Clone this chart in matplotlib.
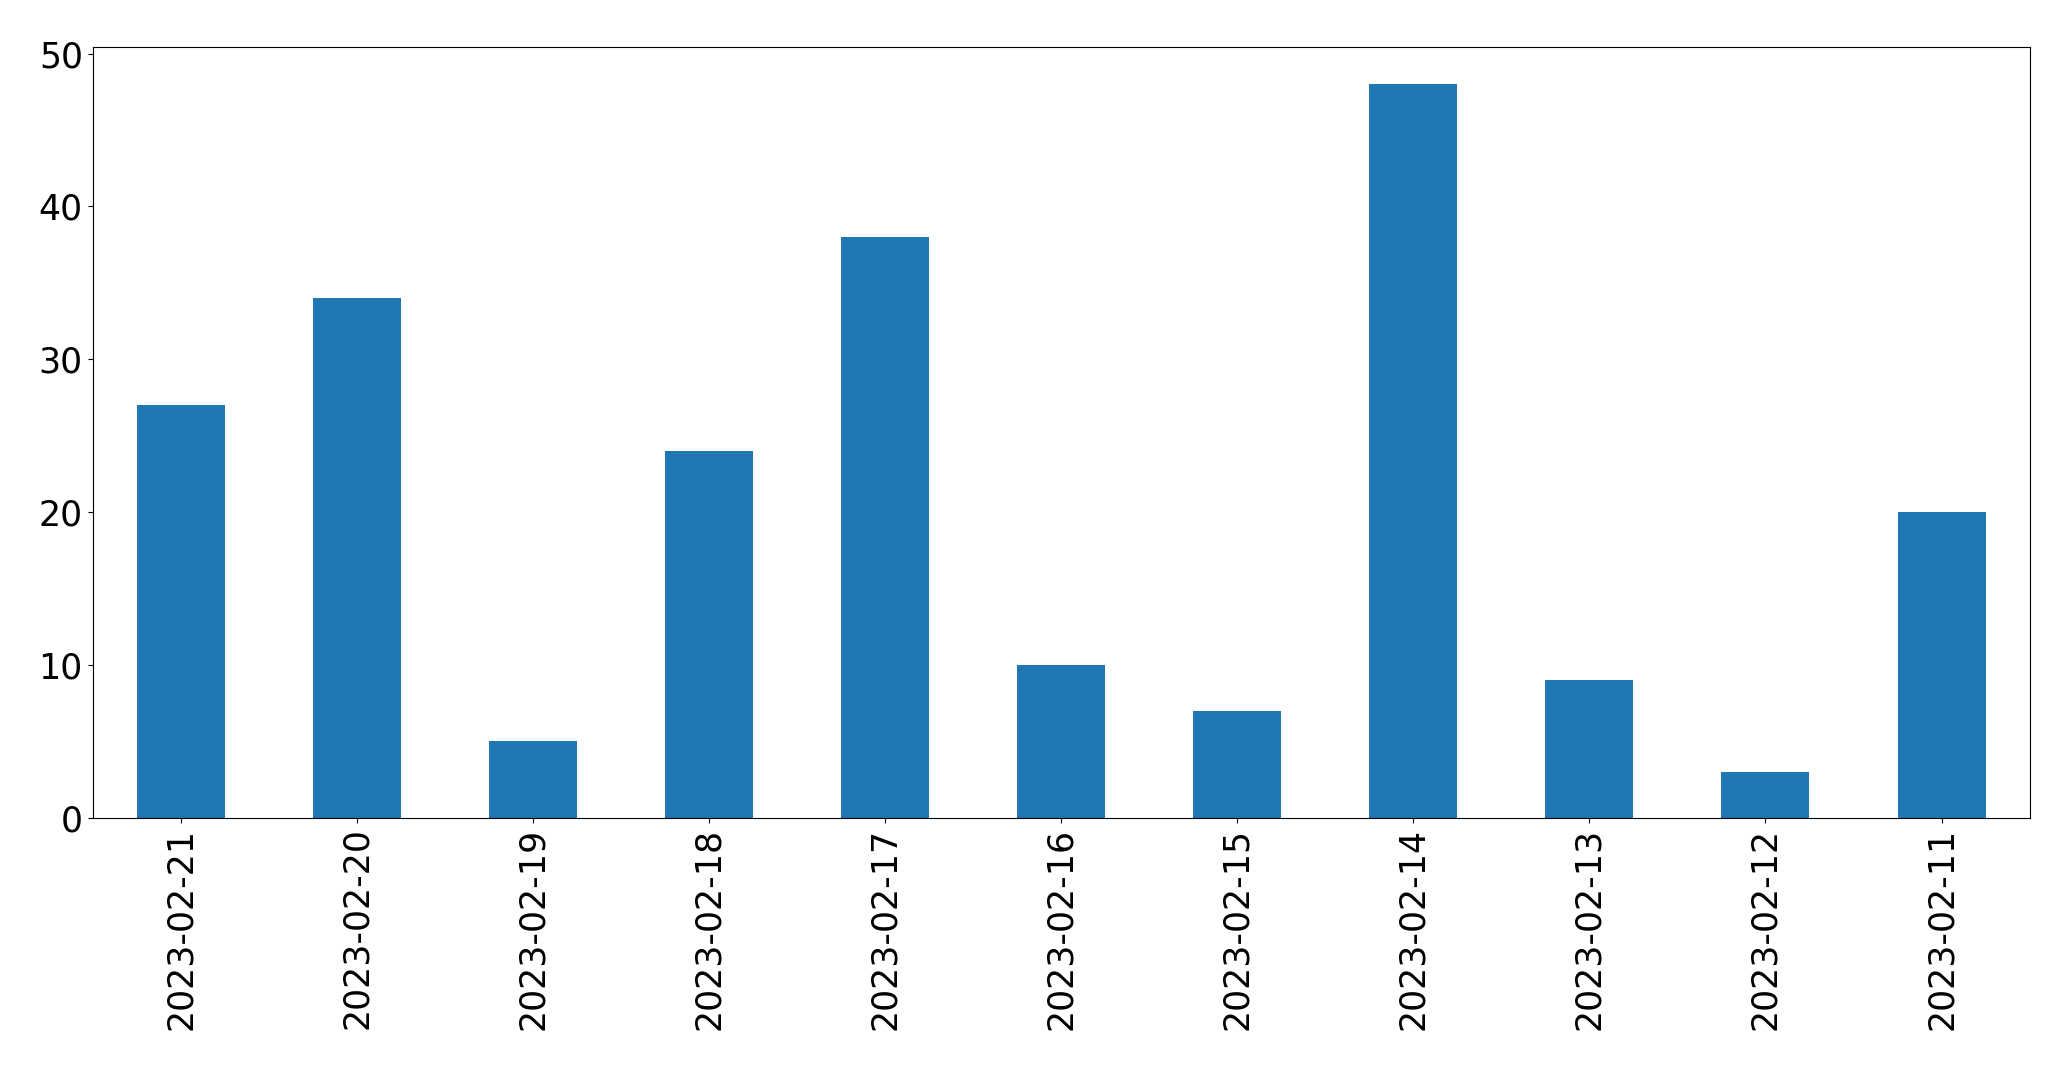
import matplotlib
matplotlib.use("Agg")
import matplotlib.pyplot as plt
import pandas as pd

dates = ["2023-02-21", "2023-02-20", "2023-02-19", "2023-02-18", "2023-02-17",
         "2023-02-16", "2023-02-15", "2023-02-14", "2023-02-13", "2023-02-12",
         "2023-02-11"]
counts = [27, 34, 5, 24, 38, 10, 7, 48, 9, 3, 20]

s = pd.Series(counts, index=dates)

fig = plt.figure(figsize=(20.71, 10.69), dpi=100)
ax = fig.add_axes([0.0447, 0.235, 0.9353, 0.7206])
s.plot.bar(ax=ax, color="#1f77b4")
ax.tick_params(axis="both", labelsize=25)
ax.set_xlim(-0.5, len(dates) - 0.5)
ax.set_ylim(0, 50.4)

fig.savefig("out.png", dpi=100)
